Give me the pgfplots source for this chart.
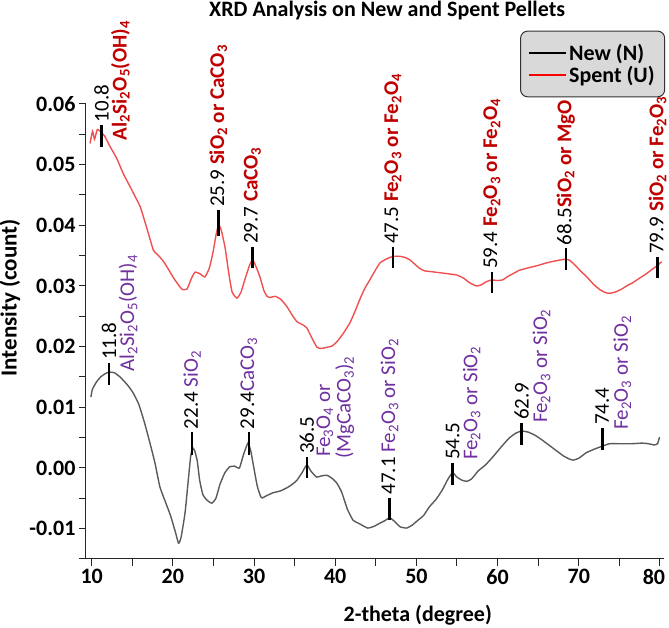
\documentclass[border=0pt]{standalone}
\usepackage{fontspec}
\setmainfont{Carlito}
\usepackage{pgfplots}
\pgfplotsset{compat=1.18}
\definecolor{newgray}{HTML}{5A5A5A}
\definecolor{spentred}{HTML}{F0504F}
\definecolor{labred}{HTML}{C00000}
\definecolor{labpur}{HTML}{7030A0}
\newcommand{\s}[1]{\textsubscript{#1}}
\newcommand{\R}[1]{\textcolor{labred}{\bfseries #1}}
\newcommand{\Pu}[1]{\textcolor{labpur}{#1}}
\newcommand{\lab}[3]{\node[rotate=90, anchor=west, inner sep=3pt, font=\fontsize{21}{23}\selectfont] at (axis cs:#1,#2) {#3};}
\newcommand{\labb}[5]{\node[rotate=90, anchor=west, inner sep=3pt, font=\fontsize{21}{23}\selectfont] at ([xshift=#3,yshift=#4]axis cs:#1,#2) {#5};}
\newcommand{\mk}[3]{\addplot[black, line width=2.5pt, forget plot] coordinates {(#1,#2) (#1,#3)};}
\begin{document}
\begin{tikzpicture}
\useasboundingbox (-86pt,-69pt) rectangle (583pt,559pt);
\begin{axis}[
  at={(0,0)}, anchor=south west,
  scale only axis, width=578pt, height=455pt,
  xmin=9.3, xmax=80.5, ymin=-0.015, ymax=0.06,
  axis x line*=bottom, axis y line*=left,
  axis line style={black!85, line width=1pt},
  xtick={10,20,...,80}, minor xtick={15,25,...,75},
  xticklabels={10,20,30,40,50,60,70,\hspace*{-12pt}80},
  ytick={-0.01,0,0.01,0.02,0.03,0.04,0.05,0.06},
  minor ytick={-0.015,-0.005,0.005,0.015,0.025,0.035,0.045,0.055},
  tick align=outside, major tick length=7pt, minor tick length=7pt,
  every tick/.style={black!85, line width=1pt},
  scaled y ticks=false,
  /pgf/number format/assume math mode=true,
  yticklabel style={/pgf/number format/fixed, /pgf/number format/fixed zerofill, /pgf/number format/precision=2},
  ticklabel style={font=\fontsize{22}{24}\selectfont\bfseries},
  xlabel={2-theta (degree)}, ylabel={Intensity (count)},
  label style={font=\fontsize{22}{24}\selectfont\bfseries},
  xlabel style={at={(axis description cs:0.574,-0.123)}, anchor=center},
  ylabel style={at={(axis description cs:-0.1315,0.574)}, anchor=center, font=\fontsize{23}{25}\selectfont\bfseries},
  title={XRD Analysis on New and Spent Pellets},
  title style={at={(axis description cs:0.521,1.1802)}, anchor=base, font=\fontsize{22}{24}\selectfont\bfseries},
  legend style={at={(axis description cs:1.002,1)}, anchor=south east, yshift=6.7pt,
    draw=black!80, line width=1pt, fill=black!15, rounded corners=7pt,
    font=\fontsize{22}{24}\selectfont\bfseries, cells={anchor=west},
    inner xsep=8pt, inner ysep=11pt},
  legend image code/.code={\draw[#1] (0pt,0pt) -- (37pt,0pt);},
  clip=false,
]
\addlegendimage{black, line width=1.5pt}
\addlegendentry{New (N)}
\addlegendimage{red, line width=1.5pt}
\addlegendentry{Spent (U)}

% Spent (U)
\addplot[spentred, line width=1.4pt, smooth, tension=0.3, forget plot] coordinates {
(9.8,0.0535) (10.1,0.0555) (10.35,0.0542) (10.7,0.0558) (11.2,0.0553) (11.6,0.0547) (12.3,0.0529)
(13.1,0.0510) (13.9,0.0485) (14.8,0.0462) (15.6,0.0441) (16.0,0.0430) (16.8,0.0395) (17.6,0.0359)
(18.1,0.0352) (18.7,0.0343) (19.3,0.0331) (20.1,0.0313) (20.9,0.0298) (21.2,0.0294) (21.75,0.0295)
(22.3,0.0313) (22.75,0.0323) (23.35,0.0320) (23.95,0.0315) (24.5,0.0330) (24.95,0.0356) (25.4,0.0390)
(25.7,0.0400) (26.0,0.0390) (26.45,0.0362) (26.9,0.0320) (27.3,0.0290) (27.9,0.0280) (28.4,0.0290)
(28.9,0.0312) (29.5,0.0336) (29.85,0.0343) (30.3,0.0330) (30.75,0.0314) (31.2,0.0293) (31.6,0.0283)
(32.0,0.0281) (32.6,0.0283) (33.3,0.0278) (34.05,0.0266) (34.7,0.0252) (35.3,0.0241) (36.0,0.0236)
(36.5,0.0231) (37.1,0.0215) (37.75,0.0199) (38.3,0.0197) (39.0,0.0199) (39.6,0.0201) (40.2,0.0208)
(41.0,0.0222) (41.8,0.0239) (42.4,0.0257) (43.0,0.0277) (43.6,0.0295) (44.3,0.0311) (44.9,0.0325)
(45.5,0.0338) (46.1,0.0343) (46.7,0.0347) (47.3,0.0349) (47.95,0.0349) (48.6,0.0347) (49.2,0.0343)
(49.8,0.0336) (50.4,0.0329) (51.0,0.0325) (51.6,0.0324) (52.8,0.0322) (54.0,0.0320) (55.0,0.0318)
(55.8,0.0313) (56.6,0.0305) (57.4,0.0300) (58.0,0.0302) (58.6,0.0307) (59.3,0.0310) (60.0,0.0309)
(60.6,0.0310) (61.3,0.0316) (62.0,0.0321) (62.7,0.0326) (63.8,0.0330) (65.0,0.0334) (66.0,0.0338)
(67.0,0.0341) (68.2,0.0344) (68.8,0.0343) (69.5,0.0335) (70.2,0.0325) (71.0,0.0315) (71.8,0.0303)
(72.6,0.0294) (73.3,0.0289) (73.8,0.0288) (74.5,0.0290) (75.3,0.0295) (76.0,0.0301) (76.6,0.0305)
(77.5,0.0313) (78.3,0.0320) (79.0,0.0327) (79.7,0.0334) (80.2,0.0340)
};

% New (N)
\addplot[newgray, line width=1.4pt, smooth, tension=0.3, forget plot] coordinates {
(9.9,0.0117) (10.1,0.0130) (10.6,0.0142) (11.1,0.0150) (11.6,0.0155) (12.15,0.0158) (12.8,0.0157)
(13.5,0.0150) (14.4,0.0137) (15.1,0.0124) (15.8,0.0105) (16.5,0.0075) (17.2,0.0040) (17.8,0.0008)
(18.4,-0.0031) (19.0,-0.0053) (19.7,-0.0078) (20.3,-0.0105) (20.7,-0.0124) (21.0,-0.0115) (21.5,-0.0074)
(21.9,-0.0020) (22.2,0.0020) (22.45,0.0033) (22.7,0.0028) (23.0,0.0012) (23.3,-0.0020) (23.7,-0.0044)
(24.2,-0.0053) (24.8,-0.0058) (25.3,-0.0050) (25.8,-0.0027) (26.4,-0.0008) (27.0,0.0002) (27.6,0.0003)
(28.2,0.0000) (28.7,0.0022) (29.25,0.0041) (29.6,0.0028) (29.9,0.0006) (30.4,-0.0030) (30.9,-0.0049)
(31.5,-0.0046) (32.3,-0.0041) (33.2,-0.0038) (34.0,-0.0033) (34.7,-0.0027) (35.3,-0.0020) (35.9,-0.0008)
(36.5,0.0005) (37.0,-0.0005) (37.7,-0.0015) (38.3,-0.0013) (39.0,-0.0012) (39.6,-0.0017) (40.2,-0.0025)
(40.8,-0.0040) (41.5,-0.0068) (42.2,-0.0086) (43.0,-0.0092) (44.0,-0.0099) (44.8,-0.0096) (45.5,-0.0091)
(46.1,-0.0087) (46.7,-0.0082) (47.3,-0.0088) (48.0,-0.0097) (48.8,-0.0099) (49.5,-0.0094) (50.2,-0.0086)
(50.9,-0.0078) (51.6,-0.0064) (52.4,-0.0052) (53.2,-0.0036) (53.9,-0.0018) (54.45,-0.0008) (55.0,-0.0015)
(55.6,-0.0020) (56.2,-0.0022) (56.8,-0.0018) (57.6,-0.0005) (58.5,0.0005) (59.4,0.0018) (60.4,0.0034)
(61.4,0.0049) (62.2,0.0057) (62.95,0.0061) (63.8,0.0059) (64.6,0.0054) (65.4,0.0047) (66.3,0.0038)
(67.2,0.0029) (68.1,0.0020) (68.8,0.0015) (69.3,0.0013) (70.0,0.0016) (70.9,0.0025) (71.9,0.0031)
(72.9,0.0036) (73.8,0.0040) (75.0,0.0040) (76.5,0.0040) (77.8,0.0041) (78.6,0.0040) (79.3,0.0038)
(79.7,0.0040) (79.95,0.0051)
};

% peak markers (spent)
\mk{11.2}{0.0529}{0.0565}
\mk{25.6}{0.0382}{0.0425}
\mk{29.8}{0.0330}{0.0364}
\mk{47.1}{0.0330}{0.0364}
\mk{59.3}{0.0288}{0.0323}
\mk{68.4}{0.0326}{0.0362}
\mk{79.7}{0.0313}{0.0348}
% peak markers (new)
\mk{12.15}{0.0137}{0.0173}
\mk{22.37}{0.0021}{0.0059}
\mk{29.37}{0.0021}{0.0059}
\mk{36.5}{-0.0016}{0.0018}
\mk{46.7}{-0.0086}{-0.0049}
\mk{54.47}{-0.0028}{0.0008}
\mk{62.95}{0.0038}{0.0074}
\mk{72.9}{0.0030}{0.0066}

% labels (spent)
\lab{11.2}{0.0565}{10.8}
\labb{11.2}{0.0565}{19pt}{-18pt}{\R{Al\s{2}Si\s{2}O\s{5}(OH)\s{4}}}
\lab{25.6}{0.0425}{25.9 \R{SiO\s{2} or CaCO\s{3}}}
\lab{29.8}{0.0364}{29.7 \R{CaCO\s{3}}}
\lab{47.1}{0.0364}{47.5 \R{Fe\s{2}O\s{3} or Fe\s{2}O\s{4}}}
\lab{59.3}{0.0323}{59.4 \R{Fe\s{2}O\s{3} or Fe\s{2}O\s{4}}}
\lab{68.4}{0.0362}{68.5\R{SiO\s{2} or MgO}}
\lab{79.7}{0.0348}{79.9 \R{SiO\s{2} or Fe\s{2}O\s{3}}}
% labels (new)
\lab{12.15}{0.0173}{11.8}
\labb{12.15}{0.0173}{19pt}{-12pt}{\Pu{Al\s{2}Si\s{2}O\s{5}(OH)\s{4}}}
\lab{22.37}{0.0059}{22.4 \Pu{SiO\s{2}}}
\lab{29.37}{0.0059}{29.4\Pu{CaCO\s{3}}}
\lab{36.5}{0.0018}{36.5}
\labb{36.5}{0.0018}{18pt}{-3pt}{\Pu{Fe\s{3}O\s{4} or}}
\labb{36.5}{0.0018}{38pt}{-5pt}{\Pu{(MgCaCO\s{3})\s{2}}}
\lab{46.7}{-0.0049}{47.1 \Pu{Fe\s{2}O\s{3} or SiO\s{2}}}
\lab{54.47}{0.0008}{54.5}
\labb{54.47}{0.0008}{19pt}{0pt}{\Pu{Fe\s{2}O\s{3} or SiO\s{2}}}
\lab{62.95}{0.0074}{62.9}
\labb{62.95}{0.0074}{20pt}{-3pt}{\Pu{Fe\s{2}O\s{3} or SiO\s{2}}}
\lab{72.9}{0.0066}{74.4}
\labb{72.9}{0.0066}{20pt}{-5pt}{\Pu{Fe\s{2}O\s{3} or SiO\s{2}}}
\end{axis}
\end{tikzpicture}
\end{document}
